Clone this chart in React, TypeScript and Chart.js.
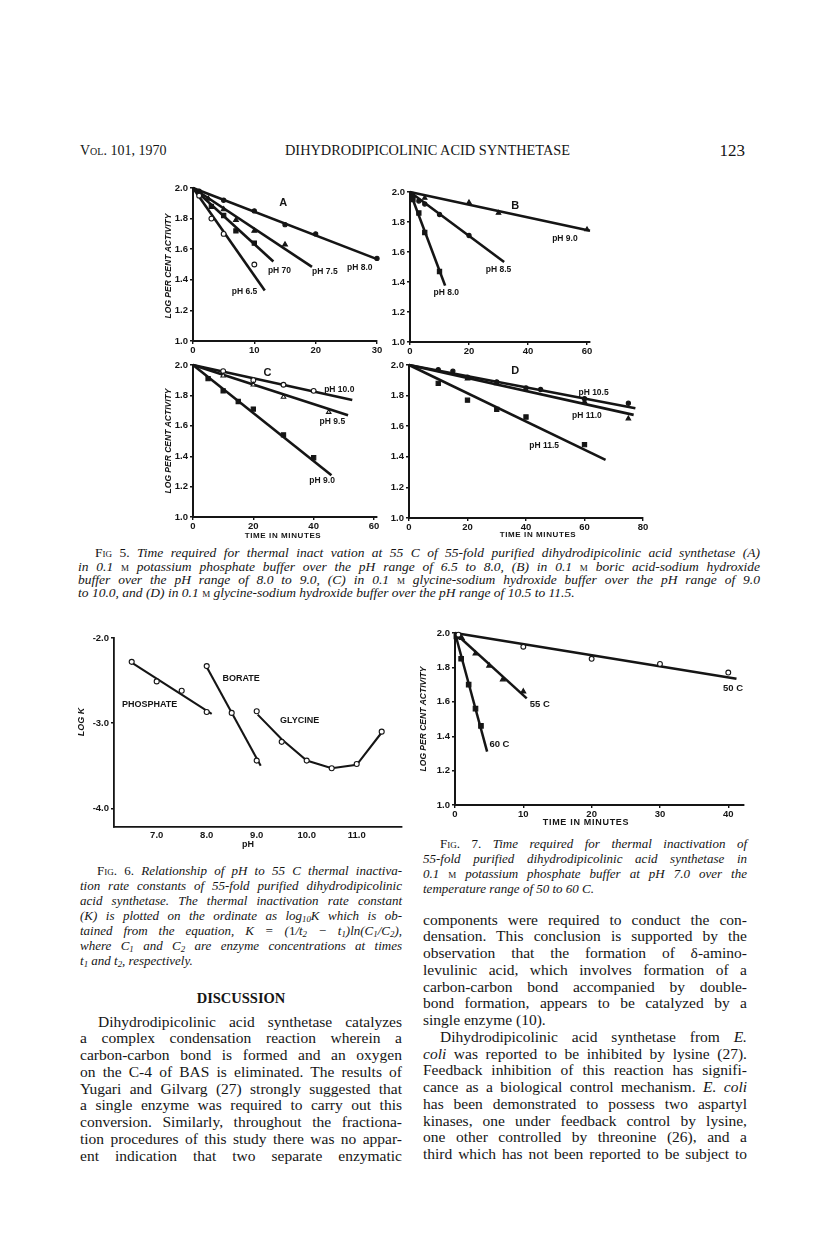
import React, { useEffect, useLayoutEffect, useRef } from 'react';
import { Chart, registerables } from 'chart.js';

Chart.register(...registerables);

const INK = '#151515';
const SANS = '"Liberation Sans", Arial, Helvetica, sans-serif';
const SERIF = '"Liberation Serif", "Times New Roman", Times, serif';

// ---------------- DATA ----------------
// shared tick values
const logActivityTicks = [1.0, 1.2, 1.4, 1.6, 1.8, 2.0];
const fig5aTimeTicks = [0, 10, 20, 30];
const fig5bTimeTicks = [0, 20, 40, 60];
const fig5cTimeTicks = [0, 20, 40, 60];
const fig5dTimeTicks = [0, 20, 40, 60, 80];
const fig7TimeTicks = [0, 10, 20, 30, 40];
const fig6PHTicks = [7, 8, 9, 10, 11];
const fig6LogKTicks = [-4, -3, -2];

// Fig. 5A  phosphate buffer (time, min / log % activity)
const fig5aTime65 = [1, 3, 5, 10];
const fig5aLog65 = [1.95, 1.8, 1.7, 1.5];
const fig5aFitTime65 = [0, 11.7];
const fig5aFitLog65 = [2.0, 1.33];
const fig5aTime70 = [1, 3, 5, 7, 10];
const fig5aLog70 = [1.97, 1.88, 1.82, 1.72, 1.64];
const fig5aFitTime70 = [0, 13.1];
const fig5aFitLog70 = [2.0, 1.52];
const fig5aTime75 = [1, 2.5, 5, 7, 10, 15];
const fig5aLog75 = [1.97, 1.93, 1.86, 1.79, 1.72, 1.63];
const fig5aFitTime75 = [0, 19.4];
const fig5aFitLog75 = [2.0, 1.485];
const fig5aTime80 = [1, 5, 10, 15, 20, 30];
const fig5aLog80 = [1.98, 1.92, 1.85, 1.76, 1.7, 1.54];
const fig5aFitTime80 = [0, 30];
const fig5aFitLog80 = [2.0, 1.535];

// Fig. 5B  borate buffer
const fig5bTime80 = [1, 3, 5, 10];
const fig5bLog80 = [1.95, 1.86, 1.73, 1.47];
const fig5bFitTime80 = [0, 11.9];
const fig5bFitLog80 = [2.0, 1.376];
const fig5bTime85 = [1, 3, 5, 10, 20];
const fig5bLog85 = [1.97, 1.94, 1.92, 1.85, 1.71];
const fig5bFitTime85 = [0, 31.9];
const fig5bFitLog85 = [2.0, 1.533];
const fig5bTime90 = [1, 5, 20, 30, 60];
const fig5bLog90 = [1.98, 1.96, 1.93, 1.86, 1.75];
const fig5bFitTime90 = [0, 61];
const fig5bFitLog90 = [2.0, 1.742];

// Fig. 5C  glycine buffer pH 9.0-10.0
const fig5cTime90 = [5, 10, 15, 20, 30, 40];
const fig5cLog90 = [1.91, 1.83, 1.76, 1.71, 1.54, 1.39];
const fig5cFitTime90 = [0, 45.9];
const fig5cFitLog90 = [2.0, 1.275];
const fig5cTime95 = [10, 20, 30, 45];
const fig5cLog95 = [1.93, 1.87, 1.79, 1.69];
const fig5cFitTime95 = [0, 51.4];
const fig5cFitLog95 = [2.0, 1.67];
const fig5cTime100 = [10, 20, 30, 40];
const fig5cLog100 = [1.96, 1.9, 1.87, 1.83];
const fig5cFitTime100 = [0, 52.8];
const fig5cFitLog100 = [2.0, 1.77];

// Fig. 5D  glycine buffer pH 10.5-11.5
const fig5dTime105 = [10, 15, 20, 30, 40, 45, 60, 75];
const fig5dLog105 = [1.97, 1.96, 1.92, 1.89, 1.85, 1.84, 1.78, 1.75];
const fig5dFitTime105 = [0, 77.4];
const fig5dFitLog105 = [2.0, 1.717];
const fig5dTime110 = [20, 30, 60, 75];
const fig5dLog110 = [1.91, 1.88, 1.76, 1.65];
const fig5dFitTime110 = [0, 76.8];
const fig5dFitLog110 = [2.0, 1.674];
const fig5dTime115 = [10, 20, 30, 40, 60];
const fig5dLog115 = [1.88, 1.77, 1.71, 1.66, 1.48];
const fig5dFitTime115 = [0, 67.2];
const fig5dFitLog115 = [2.0, 1.38];

// Fig. 6  log K vs pH
const phosphatePH = [6.5, 7.0, 7.5, 8.0];
const phosphateLogK = [-2.28, -2.51, -2.62, -2.87];
const phosphateFitPH = [6.5, 8.1];
const phosphateFitLogK = [-2.29, -2.89];
const boratePH = [8.0, 8.5, 9.0];
const borateLogK = [-2.33, -2.88, -3.44];
const borateFitPH = [8.0, 9.08];
const borateFitLogK = [-2.34, -3.5];
const glycinePH = [9.0, 9.5, 10.0, 10.5, 11.0, 11.5];
const glycineLogK = [-2.86, -3.22, -3.44, -3.53, -3.48, -3.1];
const glycineCurvePH = [9.02, 9.5, 10.0, 10.5, 11.0, 11.5];
const glycineCurveLogK = [-2.9, -3.19, -3.44, -3.53, -3.49, -3.11];

// Fig. 7  temperature series
const fig7Time50 = [0.5, 10, 20, 30, 40];
const fig7Log50 = [1.99, 1.92, 1.85, 1.82, 1.77];
const fig7FitTime50 = [0, 41.2];
const fig7FitLog50 = [2.0, 1.734];
const fig7Time55 = [1, 3, 5, 7, 10];
const fig7Log55 = [1.97, 1.88, 1.81, 1.73, 1.66];
const fig7FitTime55 = [0, 10.5];
const fig7FitLog55 = [2.0, 1.62];
const fig7Time60 = [0.2, 0.9, 2, 3, 3.8];
const fig7Log60 = [1.98, 1.85, 1.7, 1.56, 1.46];
const fig7FitTime60 = [0, 4.7];
const fig7FitLog60 = [2.0, 1.31];

// ---------------- PLOT COMPONENT ----------------
type Series = {
  t: number[];
  v: number[];
  fitT?: number[];
  fitV?: number[];
  shape: string;
  open?: boolean;
  r?: number;
};
type Note = { x: number; y: number; text: string; size: number; ls?: number };
type PageText = { x: number; y: number; text: string; size: number; italic?: boolean; rot?: boolean; ls?: number };
type PlotSpec = {
  area: number[];
  xRange: number[];
  yRange: number[];
  xTicks: number[];
  yTicks: number[];
  xDigits: number;
  yDigits: number;
  series: Series[];
  notes: Note[];
  texts: PageText[];
  pad: number[];
  lineW: number;
  axisW: number;
  tickSize: number;
  xTickMarks: boolean;
  xPad: number;
  yPad: number;
};

function makeNotesPlugin(spec: PlotSpec, cx: number, cy: number) {
  return {
    id: 'pageNotes',
    afterDraw(chart: any) {
      const ctx = chart.ctx;
      const xs = chart.scales.x;
      const ys = chart.scales.y;
      ctx.save();
      ctx.fillStyle = INK;
      ctx.textAlign = 'center';
      ctx.textBaseline = 'middle';
      for (const n of spec.notes) {
        ctx.font = `bold ${n.size}px ${SANS}`;
        ctx.letterSpacing = `${n.ls ?? 0}px`;
        ctx.fillText(n.text, xs.getPixelForValue(n.x), ys.getPixelForValue(n.y));
      }
      for (const p of spec.texts) {
        ctx.save();
        ctx.translate(p.x - cx, p.y - cy);
        if (p.rot) ctx.rotate(-Math.PI / 2);
        ctx.font = `${p.italic ? 'italic ' : ''}bold ${p.size}px ${SANS}`;
        ctx.letterSpacing = `${p.ls ?? 0}px`;
        ctx.fillText(p.text, 0, 0);
        ctx.restore();
      }
      ctx.restore();
    },
  };
}

function Plot({ spec }: { spec: PlotSpec }) {
  const ref = useRef<HTMLCanvasElement>(null);
  const [l, t, r, b] = spec.area;
  const [pl, pt, pr, pb] = spec.pad;
  const cw = pl + (r - l) + pr;
  const ch = pt + (b - t) + pb;
  const cx = l - pl;
  const cy = t - pt;

  useEffect(() => {
    const canvas = ref.current;
    if (!canvas) return;
    const datasets: any[] = [];
    spec.series.forEach((s) => {
      if (s.fitT && s.fitV) {
        datasets.push({
          data: s.fitT.map((x, i) => ({ x, y: s.fitV![i] })),
          showLine: true,
          borderColor: INK,
          borderWidth: spec.lineW,
          pointRadius: 0,
          tension: 0,
          order: 2,
          clip: false,
        });
      }
      datasets.push({
        data: s.t.map((x, i) => ({ x, y: s.v[i] })),
        showLine: false,
        pointStyle: s.shape,
        pointRadius: s.r ?? 2.5,
        backgroundColor: s.open ? '#ffffff' : INK,
        borderColor: INK,
        borderWidth: 1.1,
        order: 1,
        clip: false,
      });
    });
    const tickFont = { family: SANS, weight: 'bold' as const, size: spec.tickSize };
    const chart = new Chart(canvas, {
      type: 'scatter',
      data: { datasets },
      options: {
        animation: false,
        responsive: false,
        maintainAspectRatio: false,
        devicePixelRatio: 1,
        events: [],
        layout: { padding: { left: 0, top: pt, right: pr, bottom: 0 } },
        plugins: { legend: { display: false }, tooltip: { enabled: false } },
        scales: {
          x: {
            type: 'linear',
            position: 'bottom',
            min: spec.xRange[0],
            max: spec.xRange[1],
            afterBuildTicks: (s: any) => {
              s.ticks = spec.xTicks.map((v) => ({ value: v }));
            },
            afterFit: (s: any) => {
              s.height = pb;
            },
            ticks: {
              autoSkip: false,
              maxRotation: 0,
              font: tickFont,
              color: INK,
              padding: spec.xPad,
              callback: (v: any) => Number(v).toFixed(spec.xDigits),
            },
            grid: { drawOnChartArea: false, drawTicks: spec.xTickMarks, tickLength: 3, color: INK, lineWidth: 1.4 },
            border: { display: true, color: INK, width: spec.axisW },
          },
          y: {
            type: 'linear',
            position: 'left',
            min: spec.yRange[0],
            max: spec.yRange[1],
            afterBuildTicks: (s: any) => {
              s.ticks = spec.yTicks.map((v) => ({ value: v }));
            },
            afterFit: (s: any) => {
              s.width = pl;
            },
            ticks: {
              autoSkip: false,
              font: tickFont,
              color: INK,
              padding: spec.yPad,
              callback: (v: any) => Number(v).toFixed(spec.yDigits),
            },
            grid: { drawOnChartArea: false, drawTicks: true, tickLength: 3, color: INK, lineWidth: 1.4 },
            border: { display: true, color: INK, width: spec.axisW },
          },
        },
      } as any,
      plugins: [makeNotesPlugin(spec, cx, cy)],
    });
    return () => chart.destroy();
  }, []);

  return (
    <canvas
      ref={ref}
      width={cw}
      height={ch}
      style={{ position: 'absolute', left: cx, top: cy, width: cw, height: ch }}
    />
  );
}

// ---------------- PLOT SPECS ----------------
const fig5a: PlotSpec = {
  area: [193, 188, 377, 341],
  xRange: [0, 30],
  yRange: [1, 2],
  xTicks: fig5aTimeTicks,
  yTicks: logActivityTicks,
  xDigits: 0,
  yDigits: 1,
  series: [
    { t: fig5aTime65, v: fig5aLog65, fitT: fig5aFitTime65, fitV: fig5aFitLog65, shape: 'circle', open: true, r: 2.4 },
    { t: fig5aTime70, v: fig5aLog70, fitT: fig5aFitTime70, fitV: fig5aFitLog70, shape: 'rect', r: 3 },
    { t: fig5aTime75, v: fig5aLog75, fitT: fig5aFitTime75, fitV: fig5aFitLog75, shape: 'triangle', r: 2.8 },
    { t: fig5aTime80, v: fig5aLog80, fitT: fig5aFitTime80, fitV: fig5aFitLog80, shape: 'circle', r: 2.1 },
  ],
  notes: [
    { x: 14.7, y: 1.9, text: 'A', size: 11 },
    { x: 14.1, y: 1.46, text: 'pH 70', size: 8.5 },
    { x: 21.5, y: 1.45, text: 'pH 7.5', size: 8.5 },
    { x: 27.2, y: 1.48, text: 'pH 8.0', size: 8.5 },
    { x: 8.4, y: 1.32, text: 'pH 6.5', size: 8.5 },
  ],
  texts: [{ x: 169, y: 266, text: 'LOG PER CENT ACTIVITY', size: 8.5, italic: true, rot: true }],
  pad: [34, 10, 14, 24],
  lineW: 2.6,
  axisW: 2,
  tickSize: 9.5,
  xTickMarks: true,
  xPad: 1,
  yPad: 2,
};

const fig5b: PlotSpec = {
  ...fig5a,
  area: [410, 192, 590, 342],
  xRange: [0, 61],
  xTicks: fig5bTimeTicks,
  series: [
    { t: fig5bTime80, v: fig5bLog80, fitT: fig5bFitTime80, fitV: fig5bFitLog80, shape: 'rect', r: 3 },
    { t: fig5bTime85, v: fig5bLog85, fitT: fig5bFitTime85, fitV: fig5bFitLog85, shape: 'circle', r: 2.1 },
    { t: fig5bTime90, v: fig5bLog90, fitT: fig5bFitTime90, fitV: fig5bFitLog90, shape: 'triangle', r: 2.6 },
  ],
  notes: [
    { x: 35.7, y: 1.91, text: 'B', size: 11 },
    { x: 52.5, y: 1.69, text: 'pH 9.0', size: 8.5 },
    { x: 30, y: 1.48, text: 'pH 8.5', size: 8.5 },
    { x: 12.3, y: 1.33, text: 'pH 8.0', size: 8.5 },
  ],
  texts: [],
  pad: [30, 10, 16, 24],
};

const fig5c: PlotSpec = {
  ...fig5a,
  area: [193, 365, 377, 517],
  xRange: [0, 61],
  xTicks: fig5cTimeTicks,
  series: [
    { t: fig5cTime90, v: fig5cLog90, fitT: fig5cFitTime90, fitV: fig5cFitLog90, shape: 'rect', r: 3 },
    { t: fig5cTime95, v: fig5cLog95, fitT: fig5cFitTime95, fitV: fig5cFitLog95, shape: 'triangle', open: true, r: 2.6 },
    { t: fig5cTime100, v: fig5cLog100, fitT: fig5cFitTime100, fitV: fig5cFitLog100, shape: 'circle', open: true, r: 2.4 },
  ],
  notes: [
    { x: 24.7, y: 1.95, text: 'C', size: 11 },
    { x: 48.5, y: 1.835, text: 'pH 10.0', size: 8.5 },
    { x: 46.2, y: 1.63, text: 'pH 9.5', size: 8.5 },
    { x: 42.8, y: 1.24, text: 'pH 9.0', size: 8.5 },
  ],
  texts: [
    { x: 169, y: 441, text: 'LOG PER CENT ACTIVITY', size: 8.5, italic: true, rot: true },
    { x: 283, y: 536, text: 'TIME IN MINUTES', size: 8, ls: 0.6 },
  ],
  pad: [34, 10, 14, 28],
};

const fig5d: PlotSpec = {
  ...fig5a,
  area: [409, 365, 643, 518],
  xRange: [0, 80],
  xTicks: fig5dTimeTicks,
  series: [
    { t: fig5dTime105, v: fig5dLog105, fitT: fig5dFitTime105, fitV: fig5dFitLog105, shape: 'circle', r: 2.1 },
    { t: fig5dTime110, v: fig5dLog110, fitT: fig5dFitTime110, fitV: fig5dFitLog110, shape: 'triangle', r: 2.6 },
    { t: fig5dTime115, v: fig5dLog115, fitT: fig5dFitTime115, fitV: fig5dFitLog115, shape: 'rect', r: 3 },
  ],
  notes: [
    { x: 36.3, y: 1.96, text: 'D', size: 11 },
    { x: 63.1, y: 1.82, text: 'pH 10.5', size: 8.5 },
    { x: 60.8, y: 1.67, text: 'pH 11.0', size: 8.5 },
    { x: 46.2, y: 1.47, text: 'pH 11.5', size: 8.5 },
  ],
  texts: [{ x: 538, y: 535, text: 'TIME IN MINUTES', size: 8, ls: 0.6 }],
  pad: [30, 10, 16, 26],
};

const fig6: PlotSpec = {
  area: [114, 638, 402, 827],
  xRange: [6.146, 11.906],
  yRange: [-4.22, -2.0],
  xTicks: fig6PHTicks,
  yTicks: fig6LogKTicks,
  xDigits: 1,
  yDigits: 1,
  series: [
    { t: phosphatePH, v: phosphateLogK, fitT: phosphateFitPH, fitV: phosphateFitLogK, shape: 'circle', open: true, r: 2.5 },
    { t: boratePH, v: borateLogK, fitT: borateFitPH, fitV: borateFitLogK, shape: 'circle', open: true, r: 2.5 },
    { t: glycinePH, v: glycineLogK, fitT: glycineCurvePH, fitV: glycineCurveLogK, shape: 'circle', open: true, r: 2.5 },
  ],
  notes: [
    { x: 6.86, y: -2.78, text: 'PHOSPHATE', size: 9 },
    { x: 8.69, y: -2.48, text: 'BORATE', size: 9 },
    { x: 9.86, y: -2.97, text: 'GLYCINE', size: 9 },
  ],
  texts: [
    { x: 82, y: 722, text: 'LOG K', size: 9, italic: true, rot: true },
    { x: 248, y: 845, text: 'pH', size: 9 },
  ],
  pad: [40, 10, 10, 26],
  lineW: 2.1,
  axisW: 1.8,
  tickSize: 9.5,
  xTickMarks: false,
  xPad: 3,
  yPad: 2,
};

const fig7: PlotSpec = {
  area: [455, 633, 744, 805],
  xRange: [0, 42.3],
  yRange: [1, 2],
  xTicks: fig7TimeTicks,
  yTicks: logActivityTicks,
  xDigits: 0,
  yDigits: 1,
  series: [
    { t: fig7Time50, v: fig7Log50, fitT: fig7FitTime50, fitV: fig7FitLog50, shape: 'circle', open: true, r: 2.4 },
    { t: fig7Time55, v: fig7Log55, fitT: fig7FitTime55, fitV: fig7FitLog55, shape: 'triangle', r: 2.8 },
    { t: fig7Time60, v: fig7Log60, fitT: fig7FitTime60, fitV: fig7FitLog60, shape: 'rect', r: 3.2 },
  ],
  notes: [
    { x: 40.7, y: 1.68, text: '50 C', size: 9.5 },
    { x: 12.4, y: 1.585, text: '55 C', size: 9.5 },
    { x: 6.5, y: 1.35, text: '60 C', size: 9.5 },
  ],
  texts: [
    { x: 424, y: 719, text: 'LOG PER CENT ACTIVITY', size: 8.5, italic: true, rot: true },
    { x: 586, y: 823, text: 'TIME IN MINUTES', size: 9, ls: 0.7 },
  ],
  pad: [42, 10, 18, 26],
  lineW: 2.5,
  axisW: 2,
  tickSize: 9.5,
  xTickMarks: true,
  xPad: 1,
  yPad: 2,
};

// ---------------- TEXT HELPERS ----------------
function TextLine({
  x,
  y,
  w,
  lh,
  size,
  justify = true,
  italic = false,
  bold = false,
  children,
}: {
  x: number;
  y: number;
  w: number;
  lh: number;
  size: number;
  justify?: boolean;
  italic?: boolean;
  bold?: boolean;
  children: any;
}) {
  const ref = useRef<HTMLSpanElement>(null);
  useLayoutEffect(() => {
    const el = ref.current;
    if (!el || !justify) return;
    el.style.wordSpacing = '0px';
    const nat = el.getBoundingClientRect().width;
    const n = (el.textContent || '').split(' ').length - 1;
    if (n > 0) el.style.wordSpacing = `${(w - nat) / n}px`;
  }, []);
  return (
    <div
      style={{
        position: 'absolute',
        left: x,
        top: y - lh / 2,
        height: lh,
        lineHeight: `${lh}px`,
        whiteSpace: 'nowrap',
        fontFamily: SERIF,
        fontSize: size,
        fontStyle: italic ? 'italic' : 'normal',
        fontWeight: bold ? 'bold' : 'normal',
        color: INK,
      }}
    >
      <span ref={ref}>{children}</span>
    </div>
  );
}

const SC = ({ children }: { children: any }) => (
  <span style={{ fontVariant: 'small-caps', fontStyle: 'normal' }}>{children}</span>
);
const Sub = ({ children }: { children: any }) => (
  <span style={{ fontSize: '0.68em', verticalAlign: '-0.25em' }}>{children}</span>
);
const I = ({ children }: { children: any }) => <span style={{ fontStyle: 'italic' }}>{children}</span>;

function FitText({ x, y, w, size, children }: { x: number; y: number; w: number; size: number; children: any }) {
  const ref = useRef<HTMLSpanElement>(null);
  useLayoutEffect(() => {
    const el = ref.current;
    if (!el) return;
    el.style.transform = 'none';
    const nat = el.getBoundingClientRect().width;
    if (nat > 0) el.style.transform = `scaleX(${w / nat})`;
  }, []);
  return (
    <div style={{ position: 'absolute', left: x, top: y - 10, lineHeight: '20px', whiteSpace: 'nowrap', fontFamily: SERIF, fontSize: size, color: INK }}>
      <span ref={ref} style={{ display: 'inline-block', transformOrigin: '0 50%' }}>
        {children}
      </span>
    </div>
  );
}

// ---------------- APP ----------------
export default function App() {
  const capLH = 13.3;
  const cap5 = [553, 566.3, 579.6, 592.9];
  const c6 = [870, 885, 900, 915, 930, 945, 960];
  const c7 = [843, 858, 873, 888];
  const leftBody = 1022;
  const rightBody = 920;
  const bl = 16.75;

  return (
    <div
      style={{
        position: 'absolute',
        left: 0,
        top: 0,
        width: 816,
        height: 1241,
        background: '#ffffff',
        overflow: 'hidden',
        color: INK,
      }}
    >
      {/* running head */}
      <TextLine x={80} y={151} w={0} lh={18} size={14} justify={false}>
        <SC>Vol.</SC> 101, 1970
      </TextLine>
      <FitText x={285} y={151} w={285} size={14}>
        DIHYDRODIPICOLINIC ACID SYNTHETASE
      </FitText>
      <div
        style={{
          position: 'absolute',
          right: 71,
          top: 141,
          lineHeight: '20px',
          fontFamily: SERIF,
          fontSize: 17,
          color: INK,
        }}
      >
        123
      </div>

      {/* Figure 5 panels */}
      <Plot spec={fig5a} />
      <Plot spec={fig5b} />
      <Plot spec={fig5c} />
      <Plot spec={fig5d} />

      {/* Figure 5 caption */}
      <TextLine x={95} y={cap5[0]} w={665} lh={capLH} size={13.5} italic>
        <SC>Fig 5.</SC> Time required for thermal inact vation at 55 C of 55-fold purified dihydrodipicolinic acid synthetase (A)
      </TextLine>
      <TextLine x={78} y={cap5[1]} w={682} lh={capLH} size={13.5} italic>
        in 0.1 <SC>m</SC> potassium phosphate buffer over the pH range of 6.5 to 8.0, (B) in 0.1 <SC>m</SC> boric acid-sodium hydroxide
      </TextLine>
      <TextLine x={78} y={cap5[2]} w={682} lh={capLH} size={13.5} italic>
        buffer over the pH range of 8.0 to 9.0, (C) in 0.1 <SC>m</SC> glycine-sodium hydroxide buffer over the pH range of 9.0
      </TextLine>
      <TextLine x={78} y={cap5[3]} w={682} lh={capLH} size={13.5} italic justify={false}>
        to 10.0, and (D) in 0.1 <SC>m</SC> glycine-sodium hydroxide buffer over the pH range of 10.5 to 11.5.
      </TextLine>

      {/* Figure 6 */}
      <Plot spec={fig6} />
      <TextLine x={97} y={c6[0]} w={305} lh={15} size={13} italic>
        <SC>Fig. 6.</SC> Relationship of pH to 55 C thermal inactiva-
      </TextLine>
      <TextLine x={80} y={c6[1]} w={322} lh={15} size={13} italic>
        tion rate constants of 55-fold purified dihydrodipicolinic
      </TextLine>
      <TextLine x={80} y={c6[2]} w={322} lh={15} size={13} italic>
        acid synthetase. The thermal inactivation rate constant
      </TextLine>
      <TextLine x={80} y={c6[3]} w={322} lh={15} size={13} italic>
        (K) is plotted on the ordinate as log<Sub>10</Sub>K which is ob-
      </TextLine>
      <TextLine x={80} y={c6[4]} w={322} lh={15} size={13} italic>
        tained from the equation, K = (<span style={{ fontStyle: 'normal' }}>1</span>/t<Sub>2</Sub> − t<Sub>1</Sub>)ln(C<Sub>1</Sub>/C<Sub>2</Sub>),
      </TextLine>
      <TextLine x={80} y={c6[5]} w={322} lh={15} size={13} italic>
        where C<Sub>1</Sub> and C<Sub>2</Sub> are enzyme concentrations at times
      </TextLine>
      <TextLine x={80} y={c6[6]} w={322} lh={15} size={13} italic justify={false}>
        t<Sub>1</Sub> and t<Sub>2</Sub>, respectively.
      </TextLine>

      {/* Figure 7 */}
      <Plot spec={fig7} />
      <TextLine x={440} y={c7[0]} w={307} lh={15} size={13} italic>
        <SC>Fig. 7.</SC> Time required for thermal inactivation of
      </TextLine>
      <TextLine x={423} y={c7[1]} w={324} lh={15} size={13} italic>
        55-fold purified dihydrodipicolinic acid synthetase in
      </TextLine>
      <TextLine x={423} y={c7[2]} w={324} lh={15} size={13} italic>
        0.1 <SC>m</SC> potassium phosphate buffer at pH 7.0 over the
      </TextLine>
      <TextLine x={423} y={c7[3]} w={324} lh={15} size={13} italic justify={false}>
        temperature range of 50 to 60 C.
      </TextLine>

      {/* Discussion heading */}
      <div
        style={{
          position: 'absolute',
          left: 80,
          width: 322,
          top: 989,
          lineHeight: '18px',
          textAlign: 'center',
          fontFamily: SERIF,
          fontWeight: 'bold',
          fontSize: 14.5,
          color: INK,
        }}
      >
        DISCUSSION
      </div>

      {/* left column body */}
      <TextLine x={98} y={leftBody} w={304} lh={bl} size={15.5}>
        Dihydrodipicolinic acid synthetase catalyzes
      </TextLine>
      <TextLine x={80} y={leftBody + bl} w={322} lh={bl} size={15.5}>
        a complex condensation reaction wherein a
      </TextLine>
      <TextLine x={80} y={leftBody + bl * 2} w={322} lh={bl} size={15.5}>
        carbon-carbon bond is formed and an oxygen
      </TextLine>
      <TextLine x={80} y={leftBody + bl * 3} w={322} lh={bl} size={15.5}>
        on the C-4 of BAS is eliminated. The results of
      </TextLine>
      <TextLine x={80} y={leftBody + bl * 4} w={322} lh={bl} size={15.5}>
        Yugari and Gilvarg (27) strongly suggested that
      </TextLine>
      <TextLine x={80} y={leftBody + bl * 5} w={322} lh={bl} size={15.5}>
        a single enzyme was required to carry out this
      </TextLine>
      <TextLine x={80} y={leftBody + bl * 6} w={322} lh={bl} size={15.5}>
        conversion. Similarly, throughout the fractiona-
      </TextLine>
      <TextLine x={80} y={leftBody + bl * 7} w={322} lh={bl} size={15.5}>
        tion procedures of this study there was no appar-
      </TextLine>
      <TextLine x={80} y={leftBody + bl * 8} w={322} lh={bl} size={15.5}>
        ent indication that two separate enzymatic
      </TextLine>

      {/* right column body */}
      <TextLine x={423} y={rightBody} w={324} lh={bl} size={15.5}>
        components were required to conduct the con-
      </TextLine>
      <TextLine x={423} y={rightBody + bl} w={324} lh={bl} size={15.5}>
        densation. This conclusion is supported by the
      </TextLine>
      <TextLine x={423} y={rightBody + bl * 2} w={324} lh={bl} size={15.5}>
        observation that the formation of δ-amino-
      </TextLine>
      <TextLine x={423} y={rightBody + bl * 3} w={324} lh={bl} size={15.5}>
        levulinic acid, which involves formation of a
      </TextLine>
      <TextLine x={423} y={rightBody + bl * 4} w={324} lh={bl} size={15.5}>
        carbon-carbon bond accompanied by double-
      </TextLine>
      <TextLine x={423} y={rightBody + bl * 5} w={324} lh={bl} size={15.5}>
        bond formation, appears to be catalyzed by a
      </TextLine>
      <TextLine x={423} y={rightBody + bl * 6} w={324} lh={bl} size={15.5} justify={false}>
        single enzyme (10).
      </TextLine>
      <TextLine x={440} y={rightBody + bl * 7} w={307} lh={bl} size={15.5}>
        Dihydrodipicolinic acid synthetase from <I>E.</I>
      </TextLine>
      <TextLine x={423} y={rightBody + bl * 8} w={324} lh={bl} size={15.5}>
        <I>coli</I> was reported to be inhibited by lysine (27).
      </TextLine>
      <TextLine x={423} y={rightBody + bl * 9} w={324} lh={bl} size={15.5}>
        Feedback inhibition of this reaction has signifi-
      </TextLine>
      <TextLine x={423} y={rightBody + bl * 10} w={324} lh={bl} size={15.5}>
        cance as a biological control mechanism. <I>E. coli</I>
      </TextLine>
      <TextLine x={423} y={rightBody + bl * 11} w={324} lh={bl} size={15.5}>
        has been demonstrated to possess two aspartyl
      </TextLine>
      <TextLine x={423} y={rightBody + bl * 12} w={324} lh={bl} size={15.5}>
        kinases, one under feedback control by lysine,
      </TextLine>
      <TextLine x={423} y={rightBody + bl * 13} w={324} lh={bl} size={15.5}>
        one other controlled by threonine (26), and a
      </TextLine>
      <TextLine x={423} y={rightBody + bl * 14} w={324} lh={bl} size={15.5}>
        third which has not been reported to be subject to
      </TextLine>
    </div>
  );
}
